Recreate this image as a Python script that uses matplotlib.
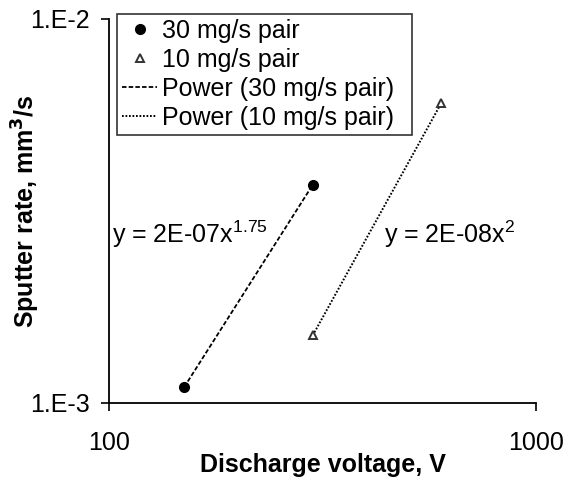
import numpy as np
import matplotlib
matplotlib.use("Agg")
import matplotlib.pyplot as plt

plt.rcParams['font.family'] = ['Liberation Sans', 'DejaVu Sans']
plt.rcParams['mathtext.fontset'] = 'custom'
plt.rcParams['mathtext.rm'] = 'Liberation Sans'

# Data
v30 = [150, 300]
r30 = [0.00110, 0.00370]
v10 = [300, 600]
r10 = [0.00150, 0.00604]
eq30 = r"y = 2E-07x$^{\mathrm{1.75}}$"
eq10 = r"y = 2E-08x$^{\mathrm{2}}$"
xticks = [100, 1000]
xticklabels = ["100", "1000"]
yticks = [1e-3, 1e-2]
yticklabels = ["1.E-3", "1.E-2"]

FS = 18

fig = plt.figure(figsize=(5.65, 4.84), dpi=100)
L, R, T, B = 109, 536, 19, 403
ax = fig.add_axes([L/565, 1-B/484, (R-L)/565, (B-T)/484])

def power_fit(x, y):
    b, a = np.polyfit(np.log(x), np.log(y), 1)
    xs = np.array(x, dtype=float)
    return xs, np.exp(a) * xs**b

def px2x(px):
    return 10**(2 + (px-L)/(R-L))

ax.plot(v30, r30, 'o', color='black', ms=7, label='30 mg/s pair', zorder=3)
ax.plot(v10, r10, '^', mfc='white', mec='#333333', mew=1.4, ms=6, label='10 mg/s pair', zorder=3)
fx, fy = power_fit(v30, r30)
ax.plot(fx, fy, color='black', lw=1.3, ls=(0, (2.5, 1.2)), label='Power (30 mg/s pair)')
fx, fy = power_fit(v10, r10)
ax.plot(fx, fy, color='black', lw=1.4, ls=(0, (0.9, 0.9)), label='Power (10 mg/s pair)')

ax.set_xscale('log')
ax.set_yscale('log')
ax.set_xlim(100, 1000)
ax.set_ylim(1e-3, 1e-2)
ax.set_xticks(xticks)
ax.set_xticklabels(xticklabels)
ax.set_yticks(yticks)
ax.set_yticklabels(yticklabels)
ax.minorticks_off()
ax.tick_params(axis='both', which='major', direction='out', length=6, width=1.2,
               labelsize=FS, pad=8, colors='black')
ax.tick_params(axis='x', pad=14)
for s in ['top', 'right']:
    ax.spines[s].set_visible(False)
for s in ['left', 'bottom']:
    ax.spines[s].set_linewidth(1.3)

ax.set_xlabel('Discharge voltage, V', fontsize=FS, fontweight='bold')
ax.set_ylabel('Sputter rate, mm$^{\\mathbf{3}}$/s', fontsize=FS, fontweight='bold')
ax.xaxis.set_label_coords(0.5, (B-453)/(B-T))
ax.yaxis.set_label_coords((42-L)/(R-L), 0.5)

ax.text(px2x(112), 2.75e-3, eq30, fontsize=FS, va='center', ha='left')
ax.text(px2x(384), 2.75e-3, eq10, fontsize=FS, va='center', ha='left')

x0 = (117-L)/(R-L)
x1 = (412-L)/(R-L)
y1 = (B-14)/(B-T)
leg = ax.legend(loc='upper left', bbox_to_anchor=(x0, y1-0.5, x1-x0, 0.5), mode='expand',
                frameon=True, fancybox=False, edgecolor='black', fontsize=FS,
                handlelength=1.4, handletextpad=0.2, borderpad=0.2, labelspacing=0.2,
                borderaxespad=0)
leg.get_frame().set_linewidth(1.2)

fig.savefig('out.png', dpi=100)
